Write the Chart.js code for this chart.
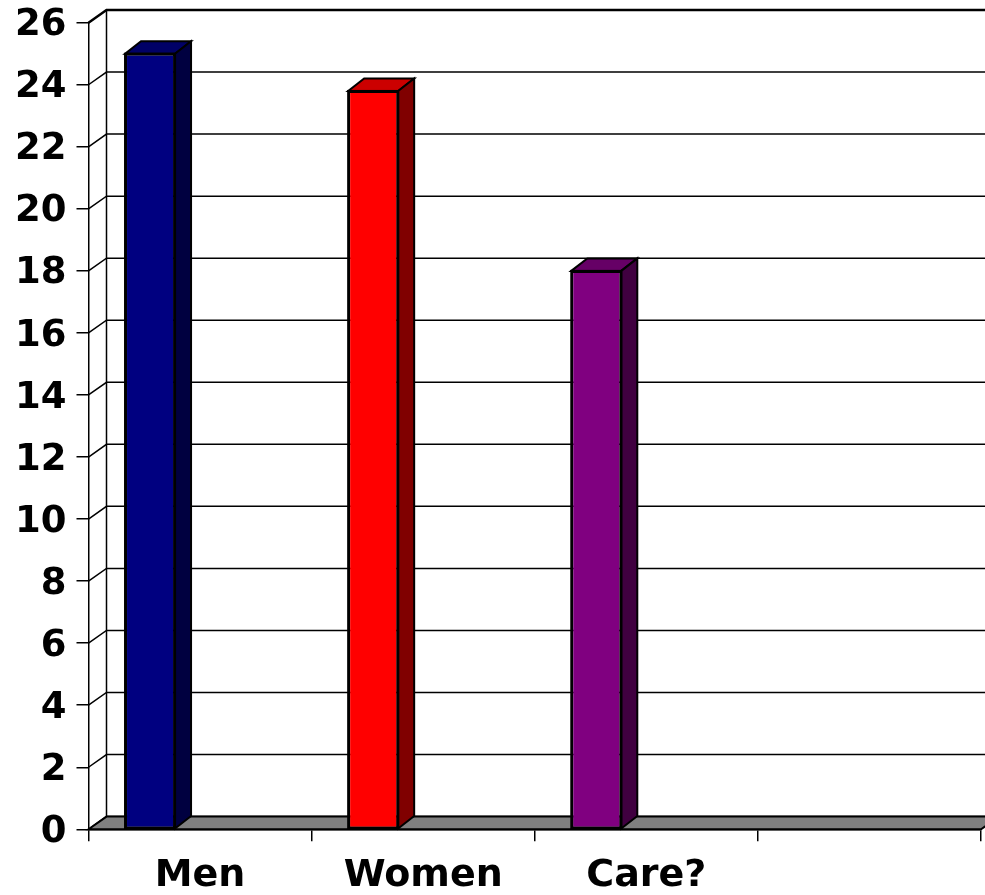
<!DOCTYPE html>
<html>
<head>
<meta charset="utf-8">
<script src="https://cdn.jsdelivr.net/npm/chart.js@4.4.0/dist/chart.umd.min.js"></script>
<style>
  html, body { margin: 0; padding: 0; background: #ffffff; }
  #wrap { position: relative; width: 985px; height: 895px; }
</style>
</head>
<body>
<div id="wrap"><canvas id="c"></canvas></div>
<script>
// ---- data ----
const categories = ["Men", "Women", "Care?", ""];
const values = [25, 23.8, 18, null];
const yMin = 0;
const yMax = 26;
const yStep = 2;

// ---- styles ----
const frontColors = ["#000080", "#FF0000", "#800080", "#808080"];
const topColors   = ["#000066", "#CC0000", "#660066", "#666666"];
const sideColors  = ["#000040", "#800000", "#400040", "#404040"];
const WALL_DX = 18, WALL_DY = 12.7;
const BAR_DX = 16, BAR_DY = 12.5;
const FONT = "'DejaVu Sans', Verdana, sans-serif";

const threeD = {
  id: 'threeD',
  beforeDatasetsDraw(chart) {
    const ctx = chart.ctx;
    const a = chart.chartArea;
    const ys = chart.scales.y;
    ctx.save();
    ctx.strokeStyle = '#000';
    ctx.lineCap = 'butt';
    // back wall gridlines + left wall diagonals
    for (let v = yMin; v <= yMax; v += yStep) {
      const yf = ys.getPixelForValue(v);
      ctx.lineWidth = (v === yMax) ? 2.5 : 1.5;
      ctx.beginPath();
      ctx.moveTo(a.left, yf);
      ctx.lineTo(a.left + WALL_DX, yf - WALL_DY);
      ctx.lineTo(a.right + WALL_DX, yf - WALL_DY);
      ctx.stroke();
    }
    // left wall back edge
    ctx.lineWidth = 1.5;
    ctx.beginPath();
    ctx.moveTo(a.left + WALL_DX, ys.getPixelForValue(yMax) - WALL_DY);
    ctx.lineTo(a.left + WALL_DX, a.bottom - WALL_DY);
    ctx.stroke();
    // floor
    ctx.beginPath();
    ctx.moveTo(a.left, a.bottom);
    ctx.lineTo(a.left + WALL_DX, a.bottom - WALL_DY);
    ctx.lineTo(a.right + WALL_DX, a.bottom - WALL_DY);
    ctx.lineTo(a.right, a.bottom);
    ctx.closePath();
    ctx.fillStyle = '#808080';
    ctx.fill();
    ctx.lineWidth = 2;
    ctx.stroke();
    ctx.restore();
  },
  afterDatasetsDraw(chart) {
    const ctx = chart.ctx;
    const meta = chart.getDatasetMeta(0);
    ctx.save();
    ctx.strokeStyle = '#000';
    ctx.lineWidth = 2;
    ctx.lineJoin = 'miter';
    meta.data.forEach((el, i) => {
      if (values[i] === null || values[i] === undefined) return;
      const p = el.getProps(['x', 'y', 'base', 'width'], true);
      const l = p.x - p.width / 2, r = p.x + p.width / 2;
      const t = p.y, b = p.base;
      // top face
      ctx.beginPath();
      ctx.moveTo(l, t);
      ctx.lineTo(l + BAR_DX, t - BAR_DY);
      ctx.lineTo(r + BAR_DX, t - BAR_DY);
      ctx.lineTo(r, t);
      ctx.closePath();
      ctx.fillStyle = topColors[i];
      ctx.fill();
      ctx.stroke();
      // side face
      ctx.beginPath();
      ctx.moveTo(r, t);
      ctx.lineTo(r + BAR_DX, t - BAR_DY);
      ctx.lineTo(r + BAR_DX, b - BAR_DY);
      ctx.lineTo(r, b);
      ctx.closePath();
      ctx.fillStyle = sideColors[i];
      ctx.fill();
      ctx.stroke();
      // redraw front outline
      ctx.strokeRect(l, t, r - l, b - t);
    });
    ctx.restore();
  }
};

new Chart(document.getElementById('c'), {
  type: 'bar',
  data: {
    labels: categories,
    datasets: [
      { label: 'Count', data: values, backgroundColor: frontColors,
        borderColor: '#000', borderWidth: 2, borderSkipped: false },
      { label: 'spacer 1', data: [null, null, null, null] },
      { label: 'spacer 2', data: [null, null, null, null] }
    ]
  },
  options: {
    responsive: true,
    maintainAspectRatio: false,
    animation: false,
    layout: { padding: { top: 22.7, right: 4, left: 0, bottom: 0 } },
    datasets: { bar: { categoryPercentage: 0.6726, barPercentage: 1.0 } },
    plugins: { legend: { display: false }, tooltip: { enabled: false } },
    scales: {
      x: {
        offset: true,
        grid: { offset: true, drawOnChartArea: false, drawTicks: true, tickLength: 12,
                color: '#000', lineWidth: 1.5 },
        border: { display: true, color: '#000', width: 1.5 },
        ticks: { color: '#000', font: { family: FONT, size: 38, weight: 'bold' },
                 padding: 12, maxRotation: 0, autoSkip: false },
        afterFit(s) { s.height = 65.7; s.paddingLeft = 0; s.paddingRight = 0; }
      },
      y: {
        min: yMin, max: yMax,
        grid: { drawOnChartArea: false, drawTicks: true, tickLength: 12,
                color: '#000', lineWidth: 1.5 },
        border: { display: true, color: '#000', width: 1.5 },
        ticks: { stepSize: yStep, color: '#000', padding: 10, labelOffset: 3,
                 font: { family: FONT, size: 37, weight: 'bold' } },
        afterFit(s) { s.width = 88.5; s.paddingTop = 0; s.paddingBottom = 0; }
      }
    }
  },
  plugins: [threeD]
});
</script>
</body>
</html>
